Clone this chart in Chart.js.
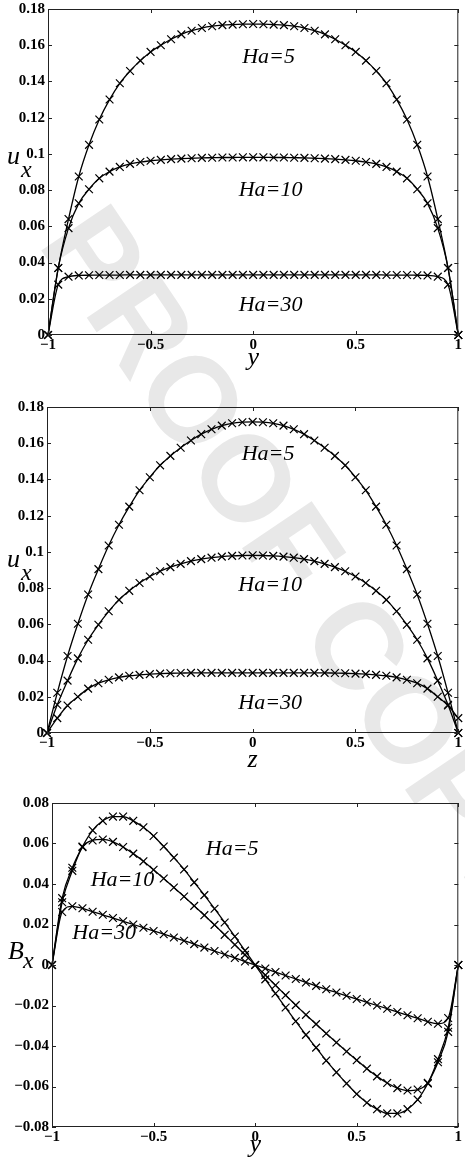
<!DOCTYPE html>
<html>
<head>
<meta charset="utf-8">
<script src="https://cdn.jsdelivr.net/npm/chart.js@4.4.1/dist/chart.umd.min.js"></script>
<style>
  html, body { margin: 0; padding: 0; background: #fff; }
  body { width: 465px; height: 1165px; position: relative; overflow: hidden; }
  canvas { position: absolute; left: 0; }
</style>
</head>
<body>
<canvas id="wm" width="465" height="1165" style="top:0"></canvas>
<canvas id="c1" width="465" height="375" style="top:0"></canvas>
<canvas id="c2" width="465" height="390" style="top:380px"></canvas>
<canvas id="c3" width="465" height="390" style="top:775px"></canvas>
<script>
// positions across the duct (y or z), same grid for every curve
const pos = [-1, -0.95, -0.9, -0.85, -0.8, -0.75, -0.7, -0.65, -0.6, -0.55,
  -0.5, -0.45, -0.4, -0.35, -0.3, -0.25, -0.2, -0.15, -0.1, -0.05,
  0, 0.05, 0.1, 0.15, 0.2, 0.25, 0.3, 0.35, 0.4, 0.45,
  0.5, 0.55, 0.6, 0.65, 0.7, 0.75, 0.8, 0.85, 0.9, 0.95, 1];

const xTicks = [-1, -0.5, 0, 0.5, 1];
const uTicks = [0, 0.02, 0.04, 0.06, 0.08, 0.1, 0.12, 0.14, 0.16, 0.18];
const bTicks = [-0.08, -0.06, -0.04, -0.02, 0, 0.02, 0.04, 0.06, 0.08];

// panel 1 : u_x against y
const ux_y_ha5 = [0, 0.037, 0.064, 0.0875, 0.105, 0.119, 0.130, 0.139, 0.1458, 0.1515,
  0.1563, 0.160, 0.1633, 0.166, 0.168, 0.1695, 0.1705, 0.1711, 0.1714, 0.1716,
  0.1717, 0.1716, 0.1714, 0.1711, 0.1705, 0.1695, 0.168, 0.166, 0.1633, 0.160,
  0.1563, 0.1515, 0.1458, 0.139, 0.130, 0.119, 0.105, 0.0875, 0.064, 0.037, 0];
const ux_y_ha10 = [0, 0.037, 0.059, 0.0727, 0.0805, 0.0865, 0.0902, 0.0928, 0.0945, 0.0955,
  0.0962, 0.0967, 0.0971, 0.0974, 0.0976, 0.0978, 0.0979, 0.098, 0.098, 0.0981,
  0.0981, 0.0981, 0.098, 0.098, 0.0979, 0.0978, 0.0976, 0.0974, 0.0971, 0.0967,
  0.0962, 0.0955, 0.0945, 0.0928, 0.0902, 0.0865, 0.0805, 0.0727, 0.059, 0.037, 0];
const ux_y_ha30 = [0, 0.0278, 0.0322, 0.0329, 0.033, 0.0331, 0.0331, 0.0331, 0.0332, 0.0332,
  0.0332, 0.0332, 0.0332, 0.0332, 0.0332, 0.0332, 0.0332, 0.0332, 0.0332, 0.0332,
  0.0332, 0.0332, 0.0332, 0.0332, 0.0332, 0.0332, 0.0332, 0.0332, 0.0332, 0.0332,
  0.0332, 0.0332, 0.0332, 0.0331, 0.0331, 0.0331, 0.033, 0.0329, 0.0322, 0.0278, 0];

// panel 2 : u_x against z
const ux_z_ha5 = [0, 0.0222, 0.0425, 0.0603, 0.0765, 0.0905, 0.1035, 0.115, 0.125, 0.134,
  0.1412, 0.1478, 0.153, 0.1575, 0.1615, 0.165, 0.1677, 0.1697, 0.171, 0.1716,
  0.1718, 0.1716, 0.171, 0.1697, 0.1677, 0.165, 0.1615, 0.1575, 0.153, 0.1478,
  0.1412, 0.134, 0.125, 0.115, 0.1035, 0.0905, 0.0765, 0.0603, 0.0425, 0.0222, 0];
const ux_z_ha10 = [0, 0.0156, 0.0289, 0.0412, 0.0515, 0.0598, 0.0672, 0.0735, 0.0785, 0.0828,
  0.0864, 0.0893, 0.0916, 0.0934, 0.0949, 0.096, 0.0968, 0.0974, 0.0978, 0.098,
  0.0981, 0.098, 0.0978, 0.0974, 0.0968, 0.096, 0.0949, 0.0934, 0.0916, 0.0893,
  0.0864, 0.0828, 0.0785, 0.0735, 0.0672, 0.0598, 0.0515, 0.0412, 0.0289, 0.0156, 0];
const ux_z_ha30 = [0, 0.0082, 0.0152, 0.02, 0.0245, 0.0275, 0.0294, 0.0307, 0.0316, 0.0321,
  0.0325, 0.0328, 0.033, 0.0331, 0.0332, 0.0332, 0.0332, 0.0332, 0.0332, 0.0332,
  0.0332, 0.0332, 0.0332, 0.0332, 0.0332, 0.0332, 0.0332, 0.0332, 0.0331, 0.033,
  0.0328, 0.0325, 0.0321, 0.0316, 0.0307, 0.0294, 0.0275, 0.0245, 0.02, 0.0152, 0.0082, 0];

// panel 3 : B_x against y
const bx_y_ha5 = [0, 0.033, 0.048, 0.0585, 0.0665, 0.0712, 0.0733, 0.0733, 0.0712, 0.068,
  0.0637, 0.0585, 0.053, 0.0472, 0.0408, 0.0345, 0.0278, 0.021, 0.0141, 0.0071,
  0, -0.0071, -0.0141, -0.021, -0.0278, -0.0345, -0.0408, -0.0472, -0.053, -0.0585,
  -0.0637, -0.068, -0.0712, -0.0733, -0.0733, -0.0712, -0.0665, -0.0585, -0.048, -0.033, 0];
const bx_y_ha10 = [0, 0.031, 0.0465, 0.0582, 0.0615, 0.062, 0.0608, 0.0583, 0.055, 0.0512,
  0.047, 0.0427, 0.0383, 0.0338, 0.0292, 0.0246, 0.0198, 0.0149, 0.01, 0.005,
  0, -0.005, -0.01, -0.0149, -0.0198, -0.0246, -0.0292, -0.0338, -0.0383, -0.0427,
  -0.047, -0.0512, -0.055, -0.0583, -0.0608, -0.062, -0.0615, -0.0582, -0.0465, -0.031, 0];
const bx_y_ha30 = [0, 0.0262, 0.029, 0.028, 0.0263, 0.0248, 0.0232, 0.0216, 0.02, 0.0184,
  0.0168, 0.0152, 0.0136, 0.012, 0.0103, 0.0086, 0.0069, 0.0052, 0.0035, 0.0017,
  0, -0.0017, -0.0035, -0.0052, -0.0069, -0.0086, -0.0103, -0.012, -0.0136, -0.0152,
  -0.0168, -0.0184, -0.02, -0.0216, -0.0232, -0.0248, -0.0263, -0.028, -0.029, -0.0262, 0];

const SERIF = '"Liberation Serif"';

// watermark behind the plots
(function () {
  const c = document.getElementById('wm').getContext('2d');
  c.save();
  c.translate(292, 562);
  c.rotate(56 * Math.PI / 180);
  c.fillStyle = '#e8e8e8';
  c.font = 'bold 122px "Liberation Sans"';
  c.textAlign = 'center';
  c.textBaseline = 'middle';
  c.fillText('PROOF COPY', 0, 0);
  c.restore();
})();

function fmt(v) {
  const s = String(parseFloat(Number(v).toFixed(4)));
  return s.replace('-', '\u2212');
}

// box, inward ticks, curve names and axis titles
const frame = {
  id: 'frame',
  afterDraw(chart, args, o) {
    const { ctx, chartArea: a, scales: { x, y } } = chart;
    ctx.save();
    ctx.strokeStyle = '#222';
    ctx.lineWidth = 1;
    ctx.strokeRect(a.left + 0.5, a.top + 0.5, a.right - a.left - 1, a.bottom - a.top - 1);
    ctx.beginPath();
    x.ticks.forEach(t => {
      const px = Math.round(x.getPixelForValue(t.value)) + 0.5;
      ctx.moveTo(px, a.bottom); ctx.lineTo(px, a.bottom - 4);
      ctx.moveTo(px, a.top); ctx.lineTo(px, a.top + 4);
    });
    y.ticks.forEach(t => {
      const py = Math.round(y.getPixelForValue(t.value)) + 0.5;
      ctx.moveTo(a.left, py); ctx.lineTo(a.left + 4, py);
      ctx.moveTo(a.right, py); ctx.lineTo(a.right - 4, py);
    });
    ctx.stroke();

    ctx.fillStyle = '#000';
    ctx.textAlign = 'center';
    ctx.textBaseline = 'middle';
    ctx.font = 'italic 22px ' + SERIF;
    o.notes.forEach(n => ctx.fillText(n.text, x.getPixelForValue(n.x), y.getPixelForValue(n.y)));

    ctx.textBaseline = 'alphabetic';
    ctx.font = 'italic 26px ' + SERIF;
    ctx.fillText(o.xTitle, (a.left + a.right) / 2, o.xTitleY);
    ctx.textAlign = 'left';
    ctx.fillText(o.yTitle, o.yTitlePos[0], o.yTitlePos[1]);
    ctx.font = 'italic 24px ' + SERIF;
    ctx.fillText('x', o.subPos[0], o.subPos[1]);
    ctx.restore();
  }
};

function series(vals) {
  return {
    data: pos.map((p, i) => ({ x: p, y: vals[i] })),
    borderColor: '#000',
    borderWidth: 1.3,
    pointStyle: 'crossRot',
    pointRadius: 5.5,
    pointBorderWidth: 1.2,
    pointBorderColor: '#000',
    pointBackgroundColor: '#000',
    cubicInterpolationMode: 'monotone',
    fill: false,
    clip: 6
  };
}

function panel(id, p) {
  const tickFont = { family: SERIF, size: 15, weight: 'bold' };
  return new Chart(document.getElementById(id), {
    type: 'line',
    data: { datasets: p.sets.map(series) },
    options: {
      responsive: false,
      animation: false,
      layout: { padding: { top: p.padTop, right: 2, left: 0, bottom: 0 } },
      plugins: {
        legend: { display: false },
        tooltip: { enabled: false },
        frame: p.frame
      },
      scales: {
        x: {
          type: 'linear', min: -1, max: 1,
          afterBuildTicks: s => { s.ticks = xTicks.map(v => ({ value: v })); },
          ticks: { callback: fmt, font: tickFont, color: '#000', padding: 1, maxRotation: 0, autoSkip: false },
          grid: { display: false, drawTicks: false },
          border: { display: false },
          afterFit: s => { s.height = p.xAxisH; s.paddingLeft = 0; s.paddingRight = 0; }
        },
        y: {
          type: 'linear', min: p.yTicks[0], max: p.yTicks[p.yTicks.length - 1],
          afterBuildTicks: s => { s.ticks = p.yTicks.map(v => ({ value: v })); },
          ticks: { callback: fmt, font: tickFont, color: '#000', padding: 3, autoSkip: false },
          grid: { display: false, drawTicks: false },
          border: { display: false },
          afterFit: s => { s.width = p.yAxisW; s.paddingTop = 0; s.paddingBottom = 0; }
        }
      }
    },
    plugins: [frame]
  });
}

panel('c1', {
  sets: [ux_y_ha5, ux_y_ha10, ux_y_ha30],
  yTicks: uTicks, padTop: 9, xAxisH: 40, yAxisW: 48,
  frame: {
    notes: [
      { text: 'Ha=5', x: 0.075, y: 0.1535 },
      { text: 'Ha=10', x: 0.085, y: 0.080 },
      { text: 'Ha=30', x: 0.085, y: 0.0166 }
    ],
    xTitle: 'y', xTitleY: 365,
    yTitle: 'u', yTitlePos: [7, 164], subPos: [21, 177]
  }
});

panel('c2', {
  sets: [ux_z_ha5, ux_z_ha10, ux_z_ha30],
  yTicks: uTicks, padTop: 27, xAxisH: 37, yAxisW: 47,
  frame: {
    notes: [
      { text: 'Ha=5', x: 0.075, y: 0.1537 },
      { text: 'Ha=10', x: 0.085, y: 0.0815 },
      { text: 'Ha=30', x: 0.085, y: 0.0162 }
    ],
    xTitle: 'z', xTitleY: 387,
    yTitle: 'u', yTitlePos: [7, 187], subPos: [21, 200]
  }
});

panel('c3', {
  sets: [bx_y_ha5, bx_y_ha10, bx_y_ha30],
  yTicks: bTicks, padTop: 28, xAxisH: 38, yAxisW: 52,
  frame: {
    notes: [
      { text: 'Ha=5', x: -0.113, y: 0.0574 },
      { text: 'Ha=10', x: -0.653, y: 0.042 },
      { text: 'Ha=30', x: -0.743, y: 0.0157 }
    ],
    xTitle: 'y', xTitleY: 377,
    yTitle: 'B', yTitlePos: [8, 184], subPos: [23, 193]
  }
});
</script>
</body>
</html>
